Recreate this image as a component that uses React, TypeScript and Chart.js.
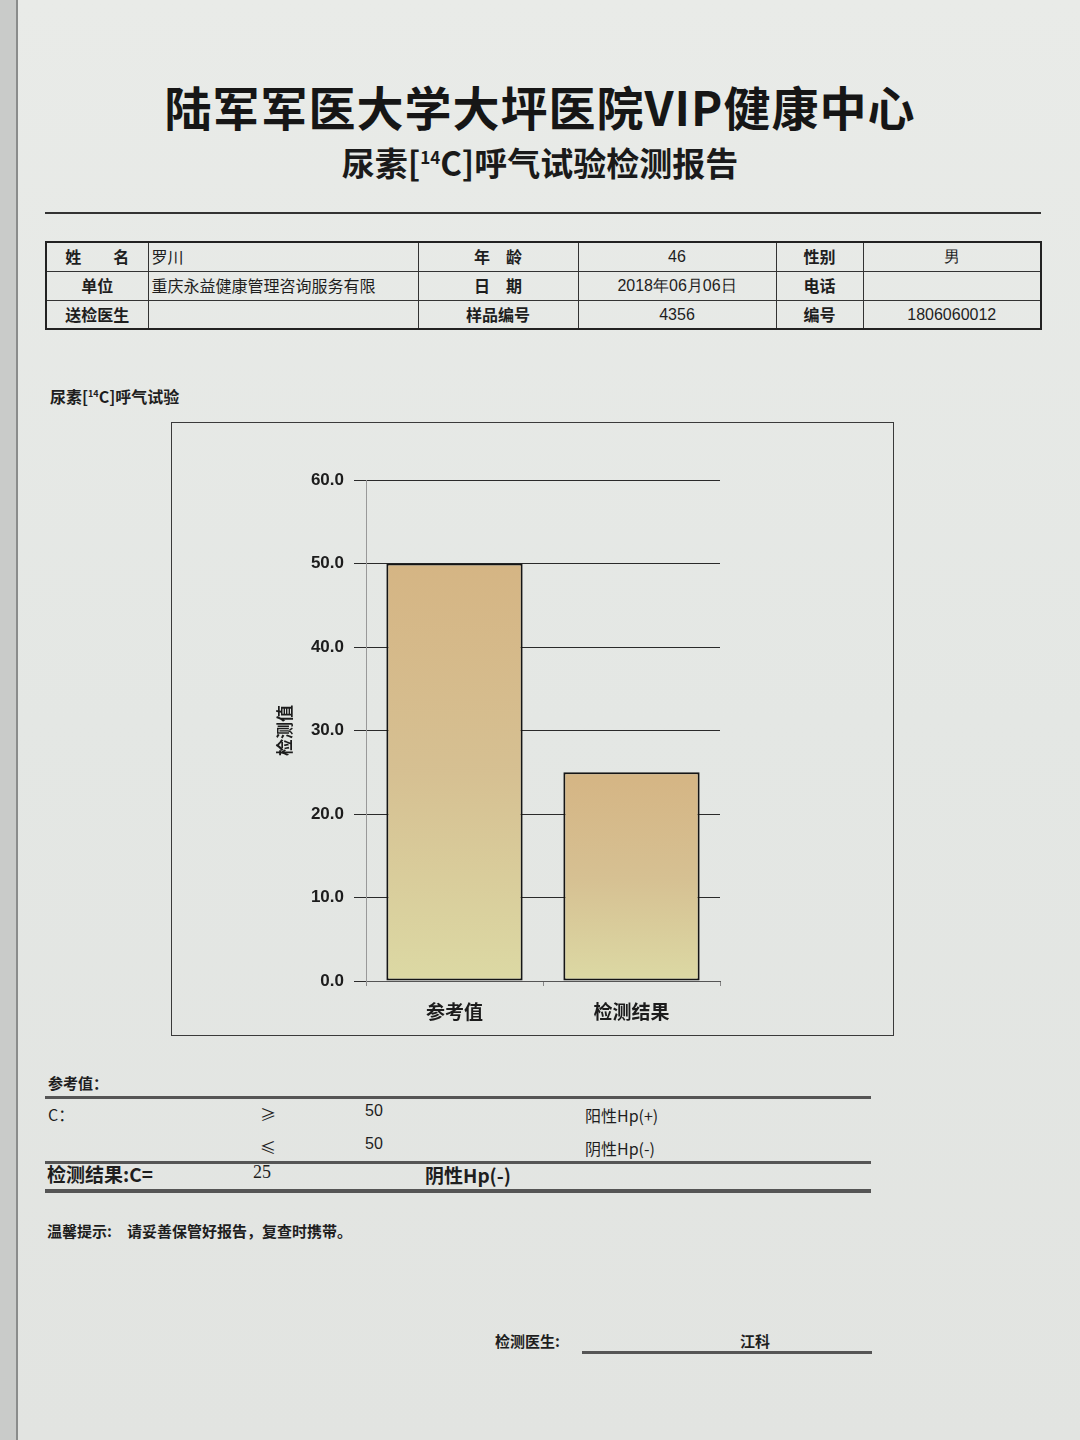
import React, { useEffect, useRef } from "react";
import { Chart, registerables } from "chart.js";

Chart.register(...registerables);

const categories = ["参考值", "检测结果"];
const values = [50, 25];
const yTicks = [0, 10, 20, 30, 40, 50, 60];
const yTitle = "检测值";

const CJK = '"Noto Sans CJK SC", "Liberation Sans", sans-serif';

function BarChart() {
  const ref = useRef<HTMLCanvasElement | null>(null);
  useEffect(() => {
    if (!ref.current) return;
    const chart = new Chart(ref.current, {
      type: "bar",
      data: {
        labels: categories,
        datasets: [
          {
            data: values,
            borderColor: "#151515",
            borderWidth: 2,
            borderSkipped: false,
            barPercentage: 0.77,
            categoryPercentage: 1,
            backgroundColor: (ctx: any) => {
              const c = ctx.chart;
              const y = c.scales && c.scales.y;
              const area = c.chartArea;
              if (!y || !area || ctx.dataIndex === undefined) return "#d6b98c";
              const v = values[ctx.dataIndex];
              const top = y.getPixelForValue(v);
              const bottom = y.getPixelForValue(0);
              if (!isFinite(top) || !isFinite(bottom)) return "#d6b98c";
              const g = c.ctx.createLinearGradient(0, top, 0, bottom);
              g.addColorStop(0, "#d5b584");
              g.addColorStop(0.5, "#d6c092");
              g.addColorStop(1, "#dcd9a4");
              return g;
            },
          },
        ],
      },
      options: {
        animation: false,
        responsive: false,
        maintainAspectRatio: false,
        layout: { padding: { left: 0, top: 57, right: 173, bottom: 0 } },
        plugins: { legend: { display: false }, tooltip: { enabled: false } },
        scales: {
          x: {
            grid: { display: true, drawOnChartArea: false, tickLength: 5, color: "#888" },
            border: { color: "#555", width: 1 },
            ticks: {
              color: "#1c1c1c",
              font: { family: CJK, size: 19, weight: "bold" },
              padding: 14,
            },
            afterFit: (s: any) => {
              s.height = 54;
            },
          },
          y: {
            min: 0,
            max: 60,
            afterBuildTicks: (s: any) => {
              s.ticks = yTicks.map((v) => ({ value: v }));
            },
            grid: { color: "#2a2a2a", lineWidth: 1, tickLength: 12 },
            border: { color: "#999", width: 1 },
            ticks: {
              color: "#1c1c1c",
              font: { family: '"Liberation Sans", Arial, sans-serif', size: 17, weight: "bold" },
              padding: 10,
              callback: (v: any) => Number(v).toFixed(1),
            },
            title: {
              display: true,
              text: yTitle,
              color: "#1c1c1c",
              font: { family: CJK, size: 17, weight: "bold" },
              padding: { top: 102, bottom: 0 },
            },
            afterFit: (s: any) => {
              s.width = 194;
            },
          },
        },
      },
    } as any);
    return () => chart.destroy();
  }, []);
  return <canvas ref={ref} width={721} height={612} style={{ display: "block" }} />;
}

const abs = (x: number, y: number, extra: React.CSSProperties = {}): React.CSSProperties => ({
  position: "absolute",
  left: x,
  top: y,
  ...extra,
});

const tableRows = [
  ["姓　　名", "罗川", "年　龄", "46", "性别", "男"],
  ["单位", "重庆永益健康管理咨询服务有限", "日　期", "2018年06月06日", "电话", ""],
  ["送检医生", "", "样品编号", "4356", "编号", "1806060012"],
];
const colWidths = [102, 270, 160, 198, 87, 178];

export default function App() {
  return (
    <div
      style={{
        position: "absolute",
        left: 0,
        top: 0,
        width: 1080,
        height: 1440,
        background: "linear-gradient(180deg, #e9ebe8 0%, #e4e7e4 50%, #e2e4e1 100%)",
        fontFamily: CJK,
        color: "#1e1e1e",
        overflow: "hidden",
      }}
    >
      <div style={abs(0, 0, { width: 16, height: 1440, background: "#c9cbc9" })} />
      <div style={abs(16, 0, { width: 2, height: 1440, background: "#8a8c8b" })} />

      <div
        style={abs(0, 76, {
          width: 1080,
          textAlign: "center",
          fontSize: 47,
          fontWeight: 700,
          letterSpacing: 1,
          color: "#161616",
          lineHeight: "60px",
        })}
      >
        陆军军医大学大坪医院VIP健康中心
      </div>
      <div
        style={abs(0, 140, {
          width: 1080,
          textAlign: "center",
          fontSize: 33,
          fontWeight: 700,
          color: "#1a1a1a",
          lineHeight: "44px",
        })}
      >
        尿素[<sup style={{ fontSize: 17, lineHeight: 0 }}>14</sup>C]呼气试验检测报告
      </div>
      <div style={abs(45, 212, { width: 996, height: 2, background: "#333" })} />

      <table
        style={abs(45, 241, {
          borderCollapse: "collapse",
          tableLayout: "fixed",
          width: 996,
          fontSize: 16,
          border: "2px solid #222",
        })}
      >
        <colgroup>
          {colWidths.map((w, i) => (
            <col key={i} style={{ width: w }} />
          ))}
        </colgroup>
        <tbody>
          {tableRows.map((r, i) => (
            <tr key={i} style={{ height: 29 }}>
              {r.map((c, j) => (
                <td
                  key={j}
                  style={{
                    border: "1.5px solid #333",
                    padding: 0,
                    textAlign: j === 1 ? "left" : "center",
                    paddingLeft: j === 1 ? 3 : 0,
                    fontWeight: j % 2 === 0 ? 700 : 400,
                    fontFamily: j === 3 || j === 5 ? '"Liberation Sans", Arial, sans-serif' : CJK,
                    whiteSpace: "nowrap",
                    overflow: "hidden",
                    lineHeight: "27px",
                  }}
                >
                  {c}
                </td>
              ))}
            </tr>
          ))}
        </tbody>
      </table>

      <div style={abs(50, 384, { fontSize: 16, fontWeight: 700 })}>
        尿素[<sup style={{ fontSize: 9 }}>14</sup>C]呼气试验
      </div>

      <div
        style={abs(171, 422, {
          width: 721,
          height: 612,
          border: "1.5px solid #3a3a3a",
        })}
      >
        <BarChart />
      </div>

      <div style={abs(48, 1072, { fontSize: 15, fontWeight: 700 })}>参考值：</div>
      <div style={abs(45, 1096, { width: 826, height: 3, background: "#555" })} />
      <div style={abs(48, 1102, { fontSize: 16 })}>C：</div>
      <div style={abs(260, 1102, { fontSize: 16 })}>≥</div>
      <div style={abs(365, 1102, { fontSize: 16, fontFamily: '"Liberation Sans", Arial' })}>50</div>
      <div style={abs(585, 1103, { fontSize: 16 })}>阳性Hp(+)</div>
      <div style={abs(260, 1135, { fontSize: 16 })}>≤</div>
      <div style={abs(365, 1135, { fontSize: 16, fontFamily: '"Liberation Sans", Arial' })}>50</div>
      <div style={abs(585, 1136, { fontSize: 16 })}>阴性Hp(-)</div>
      <div style={abs(45, 1161, { width: 826, height: 3, background: "#555" })} />
      <div style={abs(47, 1160, { fontSize: 19, fontWeight: 700 })}>检测结果:C=</div>
      <div style={abs(253, 1162, { fontSize: 18, fontFamily: '"Liberation Serif", serif' })}>25</div>
      <div style={abs(425, 1161, { fontSize: 19, fontWeight: 700 })}>阴性Hp(-)</div>
      <div style={abs(45, 1189, { width: 826, height: 4, background: "#555" })} />

      <div style={abs(47, 1220, { fontSize: 15, fontWeight: 700 })}>
        温馨提示:　请妥善保管好报告，复查时携带。
      </div>

      <div style={abs(495, 1330, { fontSize: 15, fontWeight: 700 })}>检测医生:</div>
      <div style={abs(740, 1330, { fontSize: 15, fontWeight: 700 })}>江科</div>
      <div style={abs(582, 1351, { width: 290, height: 3, background: "#555" })} />
    </div>
  );
}
